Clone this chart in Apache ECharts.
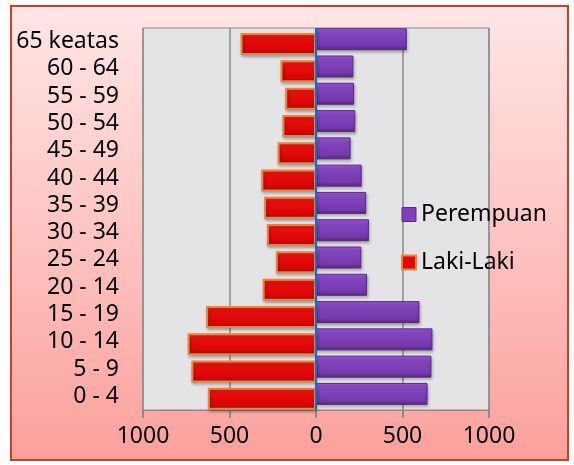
<!DOCTYPE html>
<html>
<head>
<meta charset="utf-8">
<script src="https://cdn.jsdelivr.net/npm/echarts@6/dist/echarts.min.js"></script>
<style>
  html, body { margin: 0; padding: 0; background: #fff; }
  #chart { width: 574px; height: 465px; }
</style>
</head>
<body>
<div id="chart"></div>
<script>
// kelompok umur, dari bawah ke atas
const kelompokUmur = ['0 - 4', '5 - 9', '10 - 14', '15 - 19', '20 - 14', '25 - 24', '30 - 34',
  '35 - 39', '40 - 44', '45 - 49', '50 - 54', '55 - 59', '60 - 64', '65 keatas'];
const lakiLaki = [625, 720, 742, 635, 308, 232, 284, 300, 316, 222, 194, 178, 205, 436];
const perempuan = [645, 667, 673, 598, 295, 262, 306, 290, 264, 200, 227, 220, 216, 525];
const xTicks = [-1000, -500, 0, 500, 1000];

const chart = echarts.init(document.getElementById('chart'));

// gradasi warna batang (efek timbul)
const merah = new echarts.graphic.LinearGradient(0, 0, 0, 1, [
  { offset: 0, color: '#f23a2c' },
  { offset: 0.25, color: '#e80f0c' },
  { offset: 0.8, color: '#d80404' },
  { offset: 1, color: '#a80000' }
]);
const ungu = new echarts.graphic.LinearGradient(0, 0, 0, 1, [
  { offset: 0, color: '#a060d8' },
  { offset: 0.25, color: '#8345be' },
  { offset: 0.8, color: '#7638ae' },
  { offset: 1, color: '#57237f' }
]);

const huruf = { fontFamily: 'Noto Sans', fontSize: 23, color: '#000' };

chart.setOption({
  animation: false,
  graphic: [{
    type: 'rect',
    z: -10,
    shape: { x: 11, y: 6, width: 557, height: 454 },
    style: {
      fill: new echarts.graphic.LinearGradient(0, 0, 0, 1, [
        { offset: 0, color: '#ffe6e6' },
        { offset: 0.5, color: '#fec4c2' },
        { offset: 1, color: '#fba09b' }
      ]),
      stroke: '#cc3d2a',
      lineWidth: 2
    }
  }],
  grid: {
    left: 143, right: 85, top: 28, bottom: 55,
    show: true,
    backgroundColor: '#e4e4e6',
    borderColor: '#8a8a8a',
    borderWidth: 1
  },
  legend: {
    orient: 'vertical',
    left: 396,
    top: 198,
    itemWidth: 14,
    itemHeight: 14,
    itemGap: 25,
    icon: 'rect',
    textStyle: huruf,
    data: [
      { name: 'Perempuan', itemStyle: { color: '#8040bc', borderColor: '#5a2a88', borderWidth: 1 } },
      { name: 'Laki-Laki', itemStyle: { color: '#e00808', borderColor: '#e8843c', borderWidth: 2 } }
    ]
  },
  xAxis: {
    type: 'value',
    min: xTicks[0],
    max: xTicks[xTicks.length - 1],
    interval: 500,
    axisLine: { show: true, lineStyle: { color: '#8a8a8a' } },
    axisTick: { show: true, length: 8, lineStyle: { color: '#8a8a8a', width: 2 } },
    splitLine: { show: true, lineStyle: { color: '#8a8a8a', width: 1.5 } },
    axisLabel: Object.assign({
      margin: 15,
      formatter: v => String(Math.abs(v))
    }, huruf)
  },
  yAxis: {
    type: 'category',
    data: kelompokUmur,
    axisLine: { show: false },
    axisTick: { show: false },
    axisLabel: Object.assign({ margin: 24, interval: 0 }, huruf)
  },
  series: [
    {
      name: 'Perempuan',
      type: 'bar',
      data: perempuan,
      barWidth: 22,
      barGap: '-78%',
      itemStyle: {
        color: ungu,
        borderColor: '#5a2a88',
        borderWidth: 1,
        shadowColor: 'rgba(0,0,0,0.3)',
        shadowBlur: 3,
        shadowOffsetX: 1,
        shadowOffsetY: 2
      },
      markLine: {
        silent: true,
        symbol: 'none',
        label: { show: false },
        lineStyle: { color: '#0b6fc4', width: 2, type: 'solid' },
        data: [{ xAxis: 0 }]
      }
    },
    {
      name: 'Laki-Laki',
      type: 'bar',
      data: lakiLaki.map(v => -v),
      barWidth: 22,
      barGap: '-78%',
      itemStyle: {
        color: merah,
        borderColor: '#e8843c',
        borderWidth: 2,
        shadowColor: 'rgba(0,0,0,0.3)',
        shadowBlur: 3,
        shadowOffsetX: 1,
        shadowOffsetY: 2
      }
    }
  ]
});
</script>
</body>
</html>
